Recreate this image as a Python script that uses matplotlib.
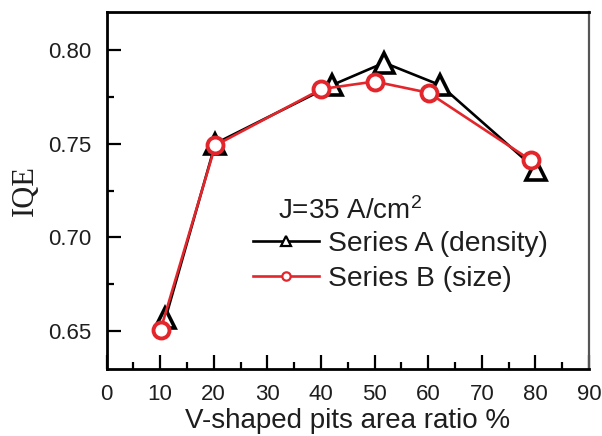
import matplotlib
matplotlib.use("Agg")
import matplotlib.pyplot as plt
from matplotlib.lines import Line2D
from matplotlib.ticker import MultipleLocator, FormatStrFormatter

# IQE versus V-pit area ratio at J = 35 A/cm^2
x_density = [11.0, 20.3, 42.0, 51.8, 62.3, 80.2]
iqe_density = [0.657, 0.750, 0.781, 0.793, 0.781, 0.736]

x_size = [10.1, 20.3, 40.1, 50.0, 60.1, 79.2]
iqe_size = [0.651, 0.749, 0.779, 0.783, 0.777, 0.741]

label_a = "Series A (density)"
label_b = "Series B (size)"
legend_title = r"J=35 A/cm$^{2}$"

RED = "#e3262b"
INK = "#1e1e1e"

plt.rcParams["font.family"] = ["Liberation Sans", "DejaVu Sans"]
plt.rcParams["mathtext.fontset"] = "custom"
plt.rcParams["mathtext.rm"] = "Liberation Sans"
plt.rcParams["mathtext.it"] = "Liberation Sans"
plt.rcParams["mathtext.default"] = "rm"

fig = plt.figure(figsize=(6.02, 4.36), dpi=100)
W, H = 602, 436
ax = fig.add_axes([106.5 / W, 1 - 369 / H, (589 - 106.5) / W, (369 - 12) / H])

ax.plot(x_density, iqe_density, color="black", lw=1.9, marker="^", ms=15,
        mfc="white", mec="black", mew=2.6, zorder=3)
ax.plot(x_size, iqe_size, color=RED, lw=1.9, marker="o", ms=11.5,
        mfc="white", mec=RED, mew=2.8, zorder=4)

ax.set_xlim(0, 90)
ax.set_ylim(0.63, 0.82)
ax.xaxis.set_major_locator(MultipleLocator(10))
ax.xaxis.set_minor_locator(MultipleLocator(5))
ax.yaxis.set_major_locator(MultipleLocator(0.05))
ax.yaxis.set_minor_locator(MultipleLocator(0.025))
ax.yaxis.set_major_formatter(FormatStrFormatter("%.2f"))

ax.tick_params(which="both", direction="in", top=False, right=False,
               width=1.6, colors="black", labelcolor=INK, labelsize=16)
ax.tick_params(which="major", length=10, pad=11)
ax.tick_params(which="minor", length=5)

for side in ["left", "bottom", "top"]:
    ax.spines[side].set_linewidth(2.0)
ax.spines["right"].set_linewidth(1.6)
ax.spines["right"].set_color("#555555")

ax.set_xlabel("V-shaped pits area ratio %", fontsize=20, color=INK, labelpad=2)
ax.set_ylabel("IQE", fontsize=22, family=["Liberation Serif"], color=INK, labelpad=6)

handles = [
    Line2D([], [], color="black", lw=1.9, marker="^", ms=7, mfc="white",
           mec="black", mew=1.6),
    Line2D([], [], color=RED, lw=1.9, marker="o", ms=6, mfc="white",
           mec=RED, mew=1.6),
]
fig.text(278 / W, 1 - 211 / H, legend_title, fontsize=20, color=INK,
         ha="left", va="center")
fig.legend(handles, [label_a, label_b], loc="upper left",
           bbox_to_anchor=(253 / W, 1 - 231 / H), frameon=False,
           fontsize=20.3, handlelength=2.35, handletextpad=0.3,
           labelspacing=0.32, borderpad=0, borderaxespad=0, labelcolor=INK)

fig.savefig("out.png", dpi=100)
